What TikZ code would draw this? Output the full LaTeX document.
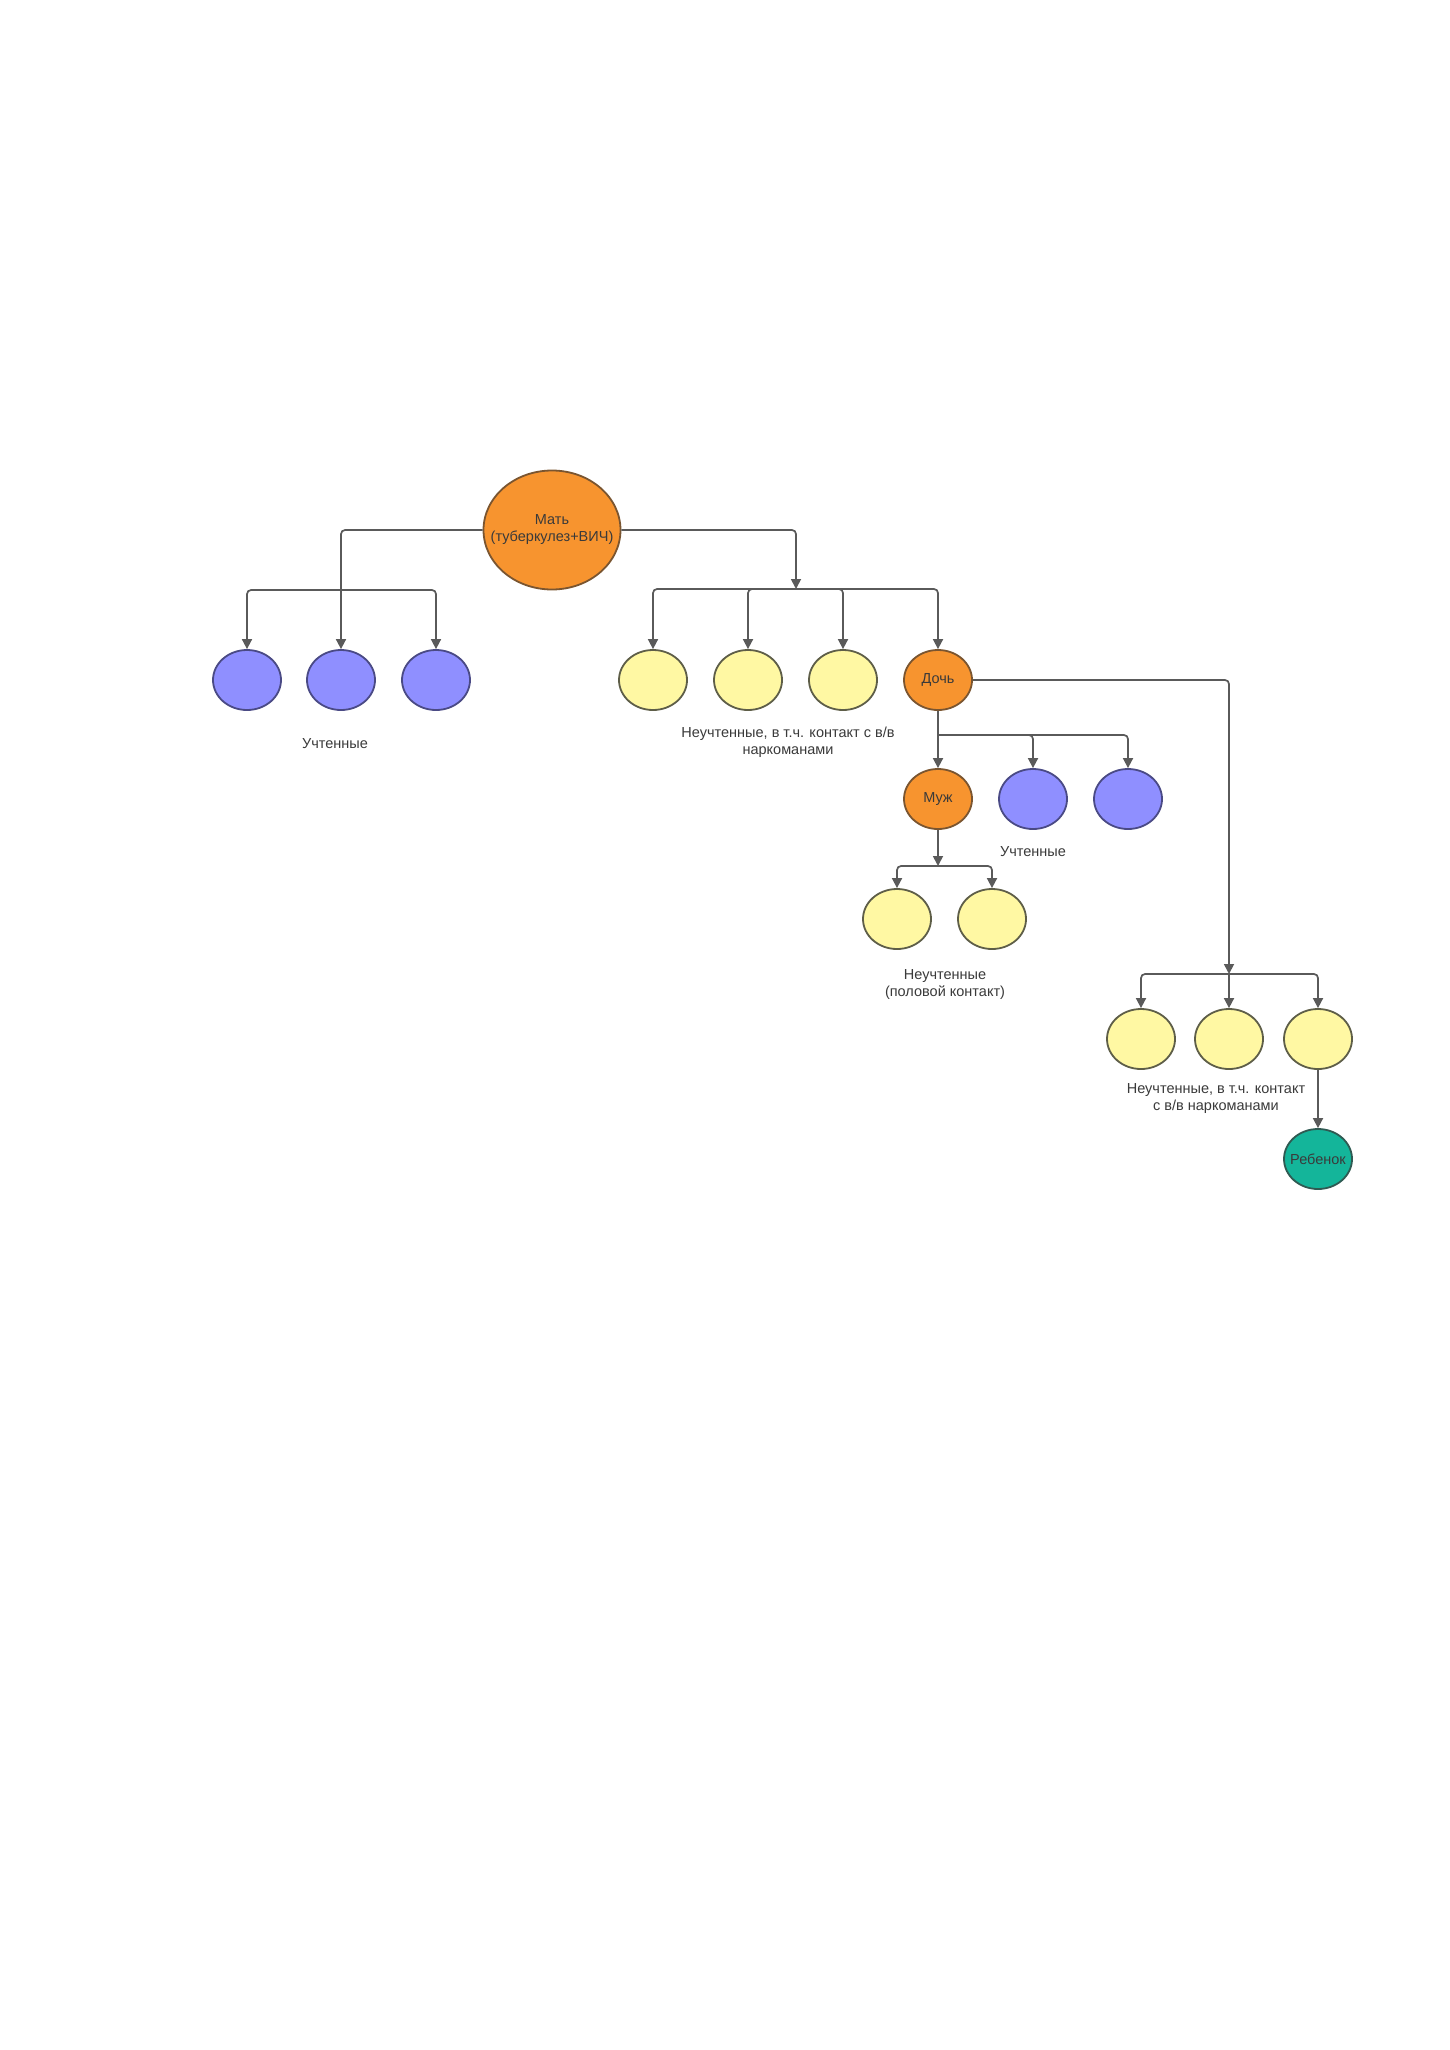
\documentclass[tikz,border=0pt]{standalone}
\usepackage{fontspec}
\setmainfont{Liberation Sans}
\usetikzlibrary{shapes.geometric,arrows.meta}
\definecolor{orfill}{HTML}{F7942F}
\definecolor{ordraw}{HTML}{7A5530}
\definecolor{blfill}{HTML}{8F8FFF}
\definecolor{bldraw}{HTML}{4A4A85}
\definecolor{yefill}{HTML}{FFF8A3}
\definecolor{yedraw}{HTML}{5E5E48}
\definecolor{tefill}{HTML}{14B59A}
\definecolor{tedraw}{HTML}{2F5A52}
\definecolor{linec}{HTML}{5A5A5A}
\definecolor{txtc}{HTML}{3A3A3A}
\tikzset{
  oval/.style={ellipse, inner sep=0pt, line width=1.8pt, minimum width=68pt, minimum height=60pt},
  orangeov/.style={oval, fill=orfill, draw=ordraw},
  blueov/.style={oval, fill=blfill, draw=bldraw},
  yellowov/.style={oval, fill=yefill, draw=yedraw},
  tealov/.style={oval, fill=tefill, draw=tedraw},
  conn/.style={draw=linec, line width=1.7pt, rounded corners=4pt},
  arr/.style={conn, -{Triangle[length=10pt,width=10pt]}},
  caption/.style={align=center, text=txtc, font=\fontsize{14.5}{17}\selectfont},
  intext/.style={label={[caption]center:#1}}
}
\begin{document}
\begin{tikzpicture}[x=1pt,y=-1pt]
\useasboundingbox[fill=white] (0,0) rectangle (1449,2050);
% nodes
\node[orangeov, minimum width=137pt, minimum height=119pt, intext={Мать\\(туберкулез+ВИЧ)}] (mat) at (552,530) {};
\node[blueov] (b1) at (247,680) {};
\node[blueov] (b2) at (341,680) {};
\node[blueov] (b3) at (436,680) {};
\node[yellowov] (y1) at (653,680) {};
\node[yellowov] (y2) at (748,680) {};
\node[yellowov] (y3) at (843,680) {};
\node[orangeov, intext={Дочь}] (doch) at (938,680) {};
\node[orangeov, intext={Муж}] (muzh) at (938,799) {};
\node[blueov] (b4) at (1033,799) {};
\node[blueov] (b5) at (1128,799) {};
\node[yellowov] (y6) at (897,919) {};
\node[yellowov] (y7) at (992,919) {};
\node[yellowov] (y8) at (1141,1039) {};
\node[yellowov] (y9) at (1229,1039) {};
\node[yellowov] (y10) at (1318,1039) {};
\node[tealov, intext={Ребенок}] (reb) at (1318,1159) {};
% captions
\node[caption] (c1) at (335,744) {Учтенные};
\node[caption] (c2) at (788,742) {Неучтенные, в т.ч. контакт с в/в\\наркоманами};
\node[caption] (c3) at (1033,852) {Учтенные};
\node[caption] (c4) at (945,985) {Неучтенные\\(половой контакт)};
\node[caption] (c5) at (1216,1099) {Неучтенные, в т.ч. контакт\\с в/в наркоманами};
% hubs
\coordinate (hubL) at (341,590);
\coordinate (hubR) at (796,589);
\coordinate (hubD) at (1229,974);
\coordinate (hubD2) at (938,735);
\coordinate (hubM) at (938,866);
% connectors
\draw[arr] (mat.west) -| (b2.north);
\draw[arr] (hubL) -| (b1.north);
\draw[arr] (hubL) -| (b3.north);
\draw[arr] (mat.east) -| (hubR);
\draw[arr] (hubR) -| (y1.north);
\draw[arr] (hubR) -| (y2.north);
\draw[arr] (hubR) -| (y3.north);
\draw[arr] (hubR) -| (doch.north);
\draw[arr] (doch.east) -| (hubD);
\draw[arr] (hubD) -| (y8.north);
\draw[arr] (hubD) -- (y9.north);
\draw[arr] (hubD) -| (y10.north);
\draw[arr] (doch.south) -- (muzh.north);
\draw[arr] (hubD2) -| (b4.north);
\draw[arr] (hubD2) -| (b5.north);
\draw[arr] (muzh.south) -- (hubM);
\draw[arr] (hubM) -| (y6.north);
\draw[arr] (hubM) -| (y7.north);
\draw[arr] (y10.south) -- (reb.north);
\end{tikzpicture}
\end{document}
